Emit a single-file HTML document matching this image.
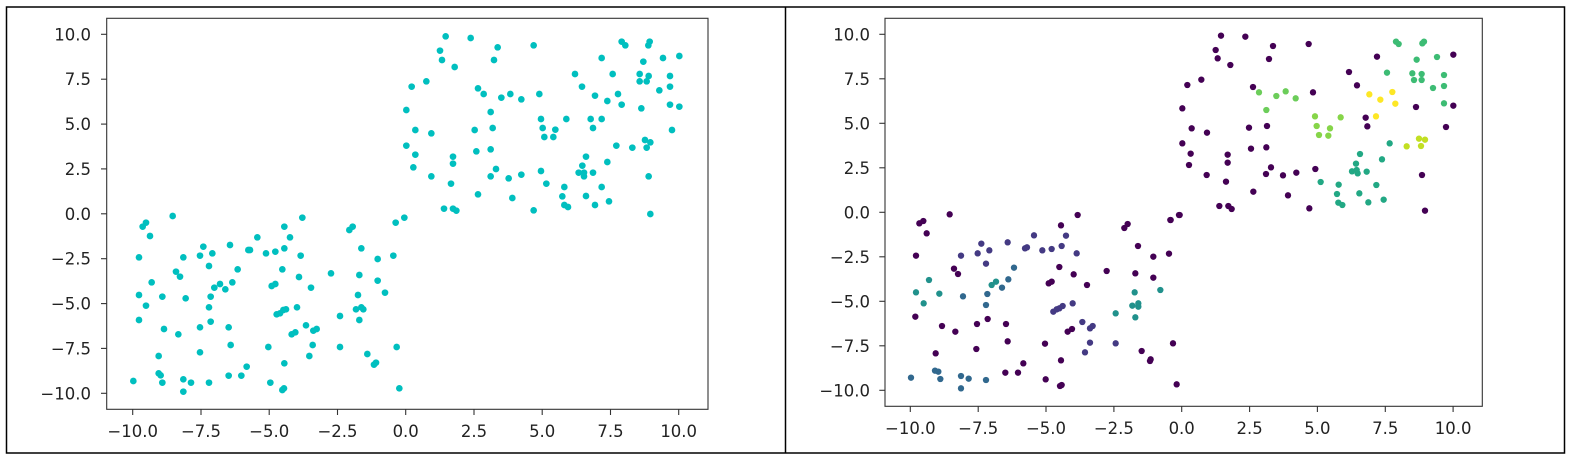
<!DOCTYPE html>
<html><head><meta charset="utf-8"><style>
html,body{margin:0;padding:0;background:#fff;}
svg{display:block;}
text{font-family:"DejaVu Sans","Liberation Sans",sans-serif;font-size:16.5px;fill:#222;}
</style></head><body>
<svg width="1570" height="458" viewBox="0 0 1570 458" xmlns="http://www.w3.org/2000/svg">
<rect x="6.5" y="7" width="1558" height="446" fill="none" stroke="#000" stroke-width="1.5"/>
<line x1="785.5" y1="7" x2="785.5" y2="453" stroke="#000" stroke-width="1.5"/>

<!-- LEFT AXES -->
<rect x="106.7" y="18.3" width="601.3" height="391" fill="none" stroke="#333" stroke-width="1.1"/>
<g stroke="#333" stroke-width="1.1">
<line x1="101" x2="106.7" y1="34.3" y2="34.3"/><line x1="101" x2="106.7" y1="79.2" y2="79.2"/><line x1="101" x2="106.7" y1="124.1" y2="124.1"/><line x1="101" x2="106.7" y1="168.9" y2="168.9"/><line x1="101" x2="106.7" y1="213.8" y2="213.8"/><line x1="101" x2="106.7" y1="258.7" y2="258.7"/><line x1="101" x2="106.7" y1="303.6" y2="303.6"/><line x1="101" x2="106.7" y1="348.4" y2="348.4"/><line x1="101" x2="106.7" y1="393.3" y2="393.3"/>
<line y1="409.3" y2="415" x1="132.7" x2="132.7"/><line y1="409.3" y2="415" x1="201" x2="201"/><line y1="409.3" y2="415" x1="269.2" x2="269.2"/><line y1="409.3" y2="415" x1="337.5" x2="337.5"/><line y1="409.3" y2="415" x1="405.7" x2="405.7"/><line y1="409.3" y2="415" x1="474" x2="474"/><line y1="409.3" y2="415" x1="542.2" x2="542.2"/><line y1="409.3" y2="415" x1="610.5" x2="610.5"/><line y1="409.3" y2="415" x1="678.7" x2="678.7"/>
</g>
<g text-anchor="end">
<text x="91" y="40.3">10.0</text><text x="91" y="85.2">7.5</text><text x="91" y="130.1">5.0</text><text x="91" y="174.9">2.5</text><text x="91" y="219.8">0.0</text><text x="91" y="264.7">−2.5</text><text x="91" y="309.6">−5.0</text><text x="91" y="354.4">−7.5</text><text x="91" y="399.3">−10.0</text>
</g>
<g text-anchor="middle">
<text x="132.7" y="437">−10.0</text><text x="201" y="437">−7.5</text><text x="269.2" y="437">−5.0</text><text x="337.5" y="437">−2.5</text><text x="405.7" y="437">0.0</text><text x="474" y="437">2.5</text><text x="542.2" y="437">5.0</text><text x="610.5" y="437">7.5</text><text x="678.7" y="437">10.0</text>
</g>

<g transform="scale(0.33333)" fill="#00bfbf">
<circle cx="400" cy="1143" r="10"/><circle cx="417" cy="772" r="10"/><circle cx="417" cy="885" r="10"/><circle cx="417" cy="960" r="10"/><circle cx="428" cy="680" r="10"/><circle cx="438" cy="668" r="10"/><circle cx="438" cy="917" r="10"/><circle cx="450" cy="708" r="10"/><circle cx="455" cy="847" r="10"/><circle cx="476" cy="1068" r="10"/><circle cx="476" cy="1120" r="10"/><circle cx="482" cy="1126" r="10"/><circle cx="487" cy="1148" r="10"/><circle cx="487" cy="890" r="10"/><circle cx="492" cy="987" r="10"/><circle cx="518" cy="648" r="10"/><circle cx="528" cy="815" r="10"/><circle cx="535" cy="1003" r="10"/><circle cx="540" cy="830" r="10"/><circle cx="550" cy="772" r="10"/><circle cx="550" cy="1138" r="10"/><circle cx="550" cy="1175" r="10"/><circle cx="557" cy="895" r="10"/><circle cx="573" cy="1148" r="10"/><circle cx="600" cy="767" r="10"/><circle cx="600" cy="982" r="10"/><circle cx="600" cy="1057" r="10"/><circle cx="610" cy="740" r="10"/><circle cx="627" cy="798" r="10"/><circle cx="627" cy="922" r="10"/><circle cx="627" cy="1148" r="10"/><circle cx="632" cy="890" r="10"/><circle cx="632" cy="965" r="10"/><circle cx="637" cy="760" r="10"/><circle cx="643" cy="863" r="10"/><circle cx="660" cy="852" r="10"/><circle cx="676" cy="868" r="10"/><circle cx="686" cy="1127" r="10"/><circle cx="686" cy="982" r="10"/><circle cx="690" cy="735" r="10"/><circle cx="692" cy="1035" r="10"/><circle cx="697" cy="847" r="10"/><circle cx="713" cy="808" r="10"/><circle cx="724" cy="1127" r="10"/><circle cx="740" cy="1100" r="10"/><circle cx="745" cy="750" r="10"/><circle cx="750" cy="750" r="10"/><circle cx="772" cy="712" r="10"/><circle cx="798" cy="760" r="10"/><circle cx="805" cy="1041" r="10"/><circle cx="811" cy="1148" r="10"/><circle cx="815" cy="858" r="10"/><circle cx="826" cy="755" r="10"/><circle cx="826" cy="852" r="10"/><circle cx="830" cy="943" r="10"/><circle cx="840" cy="940" r="10"/><circle cx="847" cy="808" r="10"/><circle cx="847" cy="1170" r="10"/><circle cx="852" cy="1165" r="10"/><circle cx="853" cy="745" r="10"/><circle cx="853" cy="680" r="10"/><circle cx="853" cy="1090" r="10"/><circle cx="850" cy="930" r="10"/><circle cx="858" cy="928" r="10"/><circle cx="870" cy="712" r="10"/><circle cx="875" cy="1003" r="10"/><circle cx="886" cy="997" r="10"/><circle cx="891" cy="922" r="10"/><circle cx="897" cy="831" r="10"/><circle cx="902" cy="767" r="10"/><circle cx="907" cy="653" r="10"/><circle cx="918" cy="976" r="10"/><circle cx="928" cy="1068" r="10"/><circle cx="933" cy="863" r="10"/><circle cx="938" cy="1035" r="10"/><circle cx="940" cy="992" r="10"/><circle cx="950" cy="987" r="10"/><circle cx="993" cy="820" r="10"/><circle cx="1020" cy="948" r="10"/><circle cx="1020" cy="1041" r="10"/><circle cx="1048" cy="690" r="10"/><circle cx="1058" cy="680" r="10"/><circle cx="1074" cy="885" r="10"/><circle cx="1078" cy="825" r="10"/><circle cx="1078" cy="960" r="10"/><circle cx="1068" cy="928" r="10"/><circle cx="1084" cy="745" r="10"/><circle cx="1084" cy="922" r="10"/><circle cx="1090" cy="928" r="10"/><circle cx="1102" cy="1062" r="10"/><circle cx="1122" cy="1094" r="10"/><circle cx="1128" cy="1088" r="10"/><circle cx="1133" cy="777" r="10"/><circle cx="1133" cy="842" r="10"/><circle cx="1155" cy="878" r="10"/><circle cx="1180" cy="767" r="10"/><circle cx="1187" cy="668" r="10"/><circle cx="1190" cy="1041" r="10"/><circle cx="1198" cy="1165" r="10"/>
</g>
<g transform="translate(380,0) scale(0.33333)" fill="#00bfbf">
<circle cx="73" cy="653" r="10"/><circle cx="197" cy="109" r="10"/><circle cx="272" cy="114" r="10"/><circle cx="180" cy="152" r="10"/><circle cx="186" cy="180" r="10"/><circle cx="224" cy="201" r="10"/><circle cx="353" cy="142" r="10"/><circle cx="342" cy="180" r="10"/><circle cx="461" cy="136" r="10"/><circle cx="95" cy="260" r="10"/><circle cx="139" cy="244" r="10"/><circle cx="294" cy="265" r="10"/><circle cx="311" cy="282" r="10"/><circle cx="364" cy="293" r="10"/><circle cx="391" cy="282" r="10"/><circle cx="424" cy="298" r="10"/><circle cx="478" cy="282" r="10"/><circle cx="79" cy="330" r="10"/><circle cx="332" cy="336" r="10"/><circle cx="106" cy="390" r="10"/><circle cx="154" cy="400" r="10"/><circle cx="284" cy="390" r="10"/><circle cx="338" cy="384" r="10"/><circle cx="79" cy="437" r="10"/><circle cx="106" cy="464" r="10"/><circle cx="100" cy="502" r="10"/><circle cx="154" cy="529" r="10"/><circle cx="219" cy="470" r="10"/><circle cx="219" cy="491" r="10"/><circle cx="213" cy="551" r="10"/><circle cx="289" cy="454" r="10"/><circle cx="332" cy="448" r="10"/><circle cx="348" cy="507" r="10"/><circle cx="332" cy="529" r="10"/><circle cx="386" cy="535" r="10"/><circle cx="424" cy="524" r="10"/><circle cx="483" cy="513" r="10"/><circle cx="499" cy="551" r="10"/><circle cx="294" cy="583" r="10"/><circle cx="397" cy="594" r="10"/><circle cx="192" cy="626" r="10"/><circle cx="219" cy="626" r="10"/><circle cx="229" cy="632" r="10"/><circle cx="461" cy="631" r="10"/><circle cx="483" cy="357" r="10"/><circle cx="488" cy="384" r="10"/><circle cx="526" cy="389" r="10"/><circle cx="493" cy="411" r="10"/><circle cx="520" cy="411" r="10"/><circle cx="559" cy="357" r="10"/><circle cx="632" cy="357" r="10"/><circle cx="665" cy="357" r="10"/><circle cx="639" cy="384" r="10"/><circle cx="585" cy="222" r="10"/><circle cx="606" cy="260" r="10"/><circle cx="645" cy="287" r="10"/><circle cx="665" cy="174" r="10"/><circle cx="682" cy="303" r="10"/><circle cx="698" cy="222" r="10"/><circle cx="714" cy="282" r="10"/><circle cx="725" cy="314" r="10"/><circle cx="725" cy="125" r="10"/><circle cx="736" cy="136" r="10"/><circle cx="809" cy="125" r="10"/><circle cx="805" cy="136" r="10"/><circle cx="790" cy="185" r="10"/><circle cx="779" cy="222" r="10"/><circle cx="806" cy="228" r="10"/><circle cx="779" cy="244" r="10"/><circle cx="800" cy="244" r="10"/><circle cx="849" cy="174" r="10"/><circle cx="898" cy="168" r="10"/><circle cx="870" cy="228" r="10"/><circle cx="870" cy="260" r="10"/><circle cx="838" cy="271" r="10"/><circle cx="784" cy="325" r="10"/><circle cx="870" cy="314" r="10"/><circle cx="898" cy="320" r="10"/><circle cx="876" cy="390" r="10"/><circle cx="795" cy="420" r="10"/><circle cx="811" cy="427" r="10"/><circle cx="800" cy="443" r="10"/><circle cx="709" cy="437" r="10"/><circle cx="757" cy="443" r="10"/><circle cx="618" cy="470" r="10"/><circle cx="607" cy="497" r="10"/><circle cx="682" cy="486" r="10"/><circle cx="596" cy="518" r="10"/><circle cx="612" cy="518" r="10"/><circle cx="612" cy="529" r="10"/><circle cx="639" cy="518" r="10"/><circle cx="553" cy="561" r="10"/><circle cx="547" cy="589" r="10"/><circle cx="553" cy="615" r="10"/><circle cx="564" cy="621" r="10"/><circle cx="618" cy="588" r="10"/><circle cx="645" cy="615" r="10"/><circle cx="665" cy="561" r="10"/><circle cx="687" cy="604" r="10"/><circle cx="806" cy="529" r="10"/><circle cx="811" cy="642" r="10"/>
</g>

<!-- RIGHT AXES -->
<rect x="885" y="18.3" width="597.3" height="388" fill="none" stroke="#333" stroke-width="1.1"/>
<g stroke="#333" stroke-width="1.1">
<line x1="879.3" x2="885" y1="34.3" y2="34.3"/><line x1="879.3" x2="885" y1="78.8" y2="78.8"/><line x1="879.3" x2="885" y1="123.3" y2="123.3"/><line x1="879.3" x2="885" y1="167.8" y2="167.8"/><line x1="879.3" x2="885" y1="212.3" y2="212.3"/><line x1="879.3" x2="885" y1="256.8" y2="256.8"/><line x1="879.3" x2="885" y1="301.3" y2="301.3"/><line x1="879.3" x2="885" y1="345.8" y2="345.8"/><line x1="879.3" x2="885" y1="390.3" y2="390.3"/>
<line y1="406.3" y2="412" x1="910.3" x2="910.3"/><line y1="406.3" y2="412" x1="978.2" x2="978.2"/><line y1="406.3" y2="412" x1="1046" x2="1046"/><line y1="406.3" y2="412" x1="1113.9" x2="1113.9"/><line y1="406.3" y2="412" x1="1181.7" x2="1181.7"/><line y1="406.3" y2="412" x1="1249.6" x2="1249.6"/><line y1="406.3" y2="412" x1="1317.4" x2="1317.4"/><line y1="406.3" y2="412" x1="1385.3" x2="1385.3"/><line y1="406.3" y2="412" x1="1453.1" x2="1453.1"/>
</g>
<g text-anchor="end">
<text x="870" y="40.3">10.0</text><text x="870" y="84.8">7.5</text><text x="870" y="129.3">5.0</text><text x="870" y="173.8">2.5</text><text x="870" y="218.3">0.0</text><text x="870" y="262.8">−2.5</text><text x="870" y="307.3">−5.0</text><text x="870" y="351.8">−7.5</text><text x="870" y="396.3">−10.0</text>
</g>
<g text-anchor="middle">
<text x="910.3" y="434">−10.0</text><text x="978.2" y="434">−7.5</text><text x="1046" y="434">−5.0</text><text x="1113.9" y="434">−2.5</text><text x="1181.7" y="434">0.0</text><text x="1249.6" y="434">2.5</text><text x="1317.4" y="434">5.0</text><text x="1385.3" y="434">7.5</text><text x="1453.1" y="434">10.0</text>
</g>

<g transform="translate(780,0) scale(0.33333)">
<g fill="#440154">
<circle cx="408" cy="767" r="9.5"/><circle cx="406" cy="950" r="9.5"/><circle cx="418" cy="670" r="9.5"/><circle cx="430" cy="663" r="9.5"/><circle cx="440" cy="700" r="9.5"/><circle cx="467" cy="1060" r="9.5"/><circle cx="486" cy="978" r="9.5"/><circle cx="509" cy="643" r="9.5"/><circle cx="522" cy="806" r="9.5"/><circle cx="534" cy="822" r="9.5"/><circle cx="526" cy="995" r="9.5"/><circle cx="591" cy="972" r="9.5"/><circle cx="589" cy="1047" r="9.5"/><circle cx="623" cy="957" r="9.5"/><circle cx="676" cy="1118" r="9.5"/><circle cx="678" cy="972" r="9.5"/><circle cx="683" cy="1024" r="9.5"/><circle cx="714" cy="1118" r="9.5"/><circle cx="730" cy="1090" r="9.5"/><circle cx="795" cy="1031" r="9.5"/><circle cx="797" cy="1138" r="9.5"/><circle cx="806" cy="850" r="9.5"/><circle cx="815" cy="845" r="9.5"/><circle cx="838" cy="801" r="9.5"/><circle cx="840" cy="1158" r="9.5"/><circle cx="845" cy="1155" r="9.5"/><circle cx="843" cy="676" r="9.5"/><circle cx="843" cy="1081" r="9.5"/><circle cx="863" cy="995" r="9.5"/><circle cx="876" cy="987" r="9.5"/><circle cx="881" cy="823" r="9.5"/><circle cx="893" cy="645" r="9.5"/><circle cx="921" cy="855" r="9.5"/><circle cx="980" cy="813" r="9.5"/><circle cx="1033" cy="684" r="9.5"/><circle cx="1043" cy="672" r="9.5"/><circle cx="1066" cy="820" r="9.5"/><circle cx="1074" cy="738" r="9.5"/><circle cx="1085" cy="1053" r="9.5"/><circle cx="1110" cy="1083" r="9.5"/><circle cx="1112" cy="1078" r="9.5"/><circle cx="1120" cy="770" r="9.5"/><circle cx="1120" cy="833" r="9.5"/><circle cx="1167" cy="761" r="9.5"/><circle cx="1171" cy="660" r="9.5"/><circle cx="1179" cy="1030" r="9.5"/><circle cx="1190" cy="1153" r="9.5"/><circle cx="1197" cy="645" r="9.5"/>
</g>
<g fill="#443a83">
<circle cx="543" cy="767" r="9.5"/><circle cx="593" cy="760" r="9.5"/><circle cx="604" cy="731" r="9.5"/><circle cx="618" cy="791" r="9.5"/><circle cx="628" cy="751" r="9.5"/><circle cx="683" cy="727" r="9.5"/><circle cx="735" cy="745" r="9.5"/><circle cx="741" cy="742" r="9.5"/><circle cx="762" cy="706" r="9.5"/><circle cx="787" cy="751" r="9.5"/><circle cx="815" cy="747" r="9.5"/><circle cx="820" cy="935" r="9.5"/><circle cx="830" cy="928" r="9.5"/><circle cx="845" cy="738" r="9.5"/><circle cx="838" cy="925" r="9.5"/><circle cx="848" cy="918" r="9.5"/><circle cx="858" cy="707" r="9.5"/><circle cx="878" cy="910" r="9.5"/><circle cx="890" cy="760" r="9.5"/><circle cx="907" cy="966" r="9.5"/><circle cx="915" cy="1057" r="9.5"/><circle cx="930" cy="1028" r="9.5"/><circle cx="930" cy="985" r="9.5"/><circle cx="938" cy="978" r="9.5"/><circle cx="1007" cy="1030" r="9.5"/>
</g>
<g fill="#31688e">
<circle cx="393" cy="1133" r="9.5"/><circle cx="465" cy="1112" r="9.5"/><circle cx="475" cy="1115" r="9.5"/><circle cx="481" cy="1137" r="9.5"/><circle cx="549" cy="889" r="9.5"/><circle cx="543" cy="1128" r="9.5"/><circle cx="543" cy="1165" r="9.5"/><circle cx="566" cy="1136" r="9.5"/><circle cx="618" cy="915" r="9.5"/><circle cx="618" cy="1140" r="9.5"/><circle cx="622" cy="882" r="9.5"/><circle cx="666" cy="863" r="9.5"/><circle cx="685" cy="838" r="9.5"/><circle cx="702" cy="803" r="9.5"/>
</g>
<g fill="#21918c">
<circle cx="408" cy="877" r="9.5"/><circle cx="431" cy="910" r="9.5"/><circle cx="447" cy="840" r="9.5"/><circle cx="478" cy="881" r="9.5"/><circle cx="635" cy="855" r="9.5"/><circle cx="648" cy="845" r="9.5"/><circle cx="1007" cy="940" r="9.5"/><circle cx="1064" cy="877" r="9.5"/><circle cx="1066" cy="952" r="9.5"/><circle cx="1057" cy="917" r="9.5"/><circle cx="1075" cy="910" r="9.5"/><circle cx="1075" cy="920" r="9.5"/><circle cx="1141" cy="870" r="9.5"/>
</g>
</g>

<g transform="translate(1160,0) scale(0.33333)">
<g fill="#440154">
<circle cx="183" cy="107" r="9.5"/><circle cx="256" cy="110" r="9.5"/><circle cx="167" cy="150" r="9.5"/><circle cx="173" cy="175" r="9.5"/><circle cx="211" cy="195" r="9.5"/><circle cx="339" cy="138" r="9.5"/><circle cx="327" cy="177" r="9.5"/><circle cx="446" cy="132" r="9.5"/><circle cx="82" cy="255" r="9.5"/><circle cx="124" cy="239" r="9.5"/><circle cx="279" cy="261" r="9.5"/><circle cx="459" cy="277" r="9.5"/><circle cx="67" cy="325" r="9.5"/><circle cx="95" cy="385" r="9.5"/><circle cx="141" cy="398" r="9.5"/><circle cx="267" cy="383" r="9.5"/><circle cx="321" cy="378" r="9.5"/><circle cx="67" cy="430" r="9.5"/><circle cx="92" cy="461" r="9.5"/><circle cx="87" cy="495" r="9.5"/><circle cx="140" cy="525" r="9.5"/><circle cx="203" cy="464" r="9.5"/><circle cx="203" cy="488" r="9.5"/><circle cx="198" cy="545" r="9.5"/><circle cx="273" cy="446" r="9.5"/><circle cx="319" cy="442" r="9.5"/><circle cx="333" cy="502" r="9.5"/><circle cx="318" cy="522" r="9.5"/><circle cx="369" cy="526" r="9.5"/><circle cx="409" cy="518" r="9.5"/><circle cx="466" cy="507" r="9.5"/><circle cx="280" cy="575" r="9.5"/><circle cx="384" cy="586" r="9.5"/><circle cx="178" cy="618" r="9.5"/><circle cx="205" cy="618" r="9.5"/><circle cx="215" cy="627" r="9.5"/><circle cx="448" cy="625" r="9.5"/><circle cx="32" cy="660" r="9.5"/><circle cx="59" cy="645" r="9.5"/><circle cx="617" cy="353" r="9.5"/><circle cx="622" cy="379" r="9.5"/><circle cx="567" cy="216" r="9.5"/><circle cx="591" cy="256" r="9.5"/><circle cx="651" cy="170" r="9.5"/><circle cx="880" cy="164" r="9.5"/><circle cx="768" cy="321" r="9.5"/><circle cx="880" cy="317" r="9.5"/><circle cx="858" cy="381" r="9.5"/><circle cx="786" cy="525" r="9.5"/><circle cx="795" cy="632" r="9.5"/>
</g>
<g fill="#6ccd5a">
<circle cx="297" cy="277" r="9.5"/><circle cx="349" cy="288" r="9.5"/><circle cx="377" cy="274" r="9.5"/><circle cx="407" cy="295" r="9.5"/><circle cx="319" cy="330" r="9.5"/>
</g>
<g fill="#86d549">
<circle cx="465" cy="349" r="9.5"/><circle cx="470" cy="378" r="9.5"/><circle cx="510" cy="385" r="9.5"/><circle cx="477" cy="405" r="9.5"/><circle cx="505" cy="407" r="9.5"/><circle cx="542" cy="352" r="9.5"/>
</g>
<g fill="#fde725">
<circle cx="648" cy="349" r="9.5"/><circle cx="628" cy="283" r="9.5"/><circle cx="661" cy="299" r="9.5"/><circle cx="697" cy="276" r="9.5"/><circle cx="706" cy="311" r="9.5"/>
</g>
<g fill="#c2df23">
<circle cx="740" cy="439" r="9.5"/><circle cx="777" cy="416" r="9.5"/><circle cx="795" cy="419" r="9.5"/><circle cx="783" cy="438" r="9.5"/>
</g>
<g fill="#3dbc74">
<circle cx="681" cy="218" r="9.5"/><circle cx="708" cy="125" r="9.5"/><circle cx="716" cy="132" r="9.5"/><circle cx="787" cy="130" r="9.5"/><circle cx="792" cy="125" r="9.5"/><circle cx="770" cy="179" r="9.5"/><circle cx="831" cy="171" r="9.5"/><circle cx="757" cy="220" r="9.5"/><circle cx="785" cy="222" r="9.5"/><circle cx="762" cy="240" r="9.5"/><circle cx="785" cy="240" r="9.5"/><circle cx="852" cy="225" r="9.5"/><circle cx="819" cy="264" r="9.5"/><circle cx="852" cy="258" r="9.5"/><circle cx="852" cy="310" r="9.5"/>
</g>
<g fill="#22a884">
<circle cx="482" cy="546" r="9.5"/><circle cx="689" cy="430" r="9.5"/><circle cx="600" cy="462" r="9.5"/><circle cx="666" cy="478" r="9.5"/><circle cx="588" cy="491" r="9.5"/><circle cx="576" cy="514" r="9.5"/><circle cx="593" cy="520" r="9.5"/><circle cx="590" cy="510" r="9.5"/><circle cx="620" cy="515" r="9.5"/><circle cx="536" cy="554" r="9.5"/><circle cx="531" cy="582" r="9.5"/><circle cx="535" cy="608" r="9.5"/><circle cx="547" cy="615" r="9.5"/><circle cx="598" cy="580" r="9.5"/><circle cx="625" cy="607" r="9.5"/><circle cx="649" cy="555" r="9.5"/><circle cx="671" cy="599" r="9.5"/>
</g>
</g>
</svg>
</body></html>
